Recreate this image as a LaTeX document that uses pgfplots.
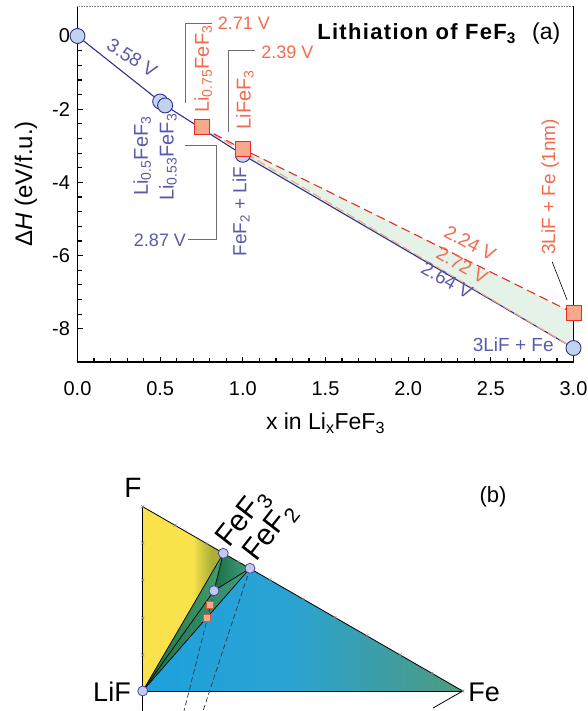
\documentclass[border=0pt]{standalone}
\usepackage{fontspec}
\setmainfont{Liberation Sans}
\usepackage{pgfplots}
\pgfplotsset{compat=1.18}
\newcommand\fs[1]{\fontsize{#1}{#1}\selectfont}
\definecolor{bline}{HTML}{2E3192}
\definecolor{btext}{HTML}{5A5AAA}
\definecolor{rline}{HTML}{EE2A24}
\definecolor{rtext}{HTML}{F26B4E}
\definecolor{sqfill}{HTML}{F7A98B}
\definecolor{cfill}{HTML}{C3D3EE}
\definecolor{gfill}{HTML}{E4F2E8}
\definecolor{oline}{HTML}{F4A57E}
\definecolor{annog}{HTML}{6E6E6E}
\definecolor{ylw}{HTML}{FAE24A}
\definecolor{olv}{HTML}{A9AE38}
\definecolor{bl1}{HTML}{1EA1DD}
\definecolor{bl2}{HTML}{2AA3D3}
\definecolor{bl3}{HTML}{4E9A7E}
\definecolor{bcirc}{HTML}{C5C8EC}
\pgfdeclarehorizontalshading{yshade}{100bp}{color(0bp)=(ylw); color(25bp)=(ylw); color(56bp)=(ylw); color(68bp)=(olv); color(75bp)=(olv); color(100bp)=(olv)}
\pgfdeclarehorizontalshading{bshade}{100bp}{color(0bp)=(bl1); color(25bp)=(bl1); color(48bp)=(bl2); color(75bp)=(bl3); color(100bp)=(bl3)}
\begin{document}
\begin{tikzpicture}
\useasboundingbox (0pt,0pt) rectangle (588pt,-711pt);
% ---------------- panel (a)
\begin{axis}[
  at={(77.5pt,-362pt)}, anchor=south west,
  scale only axis, width=496pt, height=356pt,
  xmin=0, xmax=3, ymin=-8.907, ymax=0.82,
  axis x line*=bottom, axis y line*=left,
  axis line style={line width=1.6pt, black},
  xtick={0,0.5,...,3}, ytick={0,-2,-4,-6,-8},
  minor x tick num=4, minor y tick num=4,
  tick align=inside, major tick length=5pt, minor tick length=4pt,
  every tick/.style={line width=1.2pt, black},
  /pgf/number format/assume math mode=true,
  ticklabel style={font=\fs{20}},
  yticklabel style={xshift=-4pt},
  xticklabel style={yshift=-16pt, /pgf/number format/.cd, fixed, fixed zerofill, precision=1},
  xlabel={x in Li\textsubscript{x}FeF\textsubscript{3}},
  xlabel style={font=\fs{23}, at={(axis description cs:0.5,-0.172)}, anchor=center},
  ylabel={Δ\textit{H} (eV/f.u.)},
  ylabel style={font=\fs{24}, at={(axis description cs:-0.104,0.5)}, anchor=center},
  clip=false,
]
\addplot[fill=gfill, draw=none] coordinates {(1,-3.09) (3,-7.57) (3,-8.526) (1,-3.246) (1,-3.09)};
\addplot[bline, line width=1.1pt] coordinates {(0,0) (0.5,-1.79) (0.53,-1.897) (1,-3.246) (3,-8.526)};
\addplot[oline, line width=1.1pt, dash pattern=on 9pt off 4pt] coordinates {(0.75,-2.493) (3,-8.526)};
\addplot[rline, line width=1.1pt, dash pattern=on 9pt off 5pt] coordinates {(0.75,-2.493) (1,-3.09) (3,-7.57)};
\addplot[only marks, mark=*, mark size=7.5pt, mark options={fill=cfill, draw=bline, line width=0.9pt}]
  coordinates {(0,0) (0.5,-1.79) (0.53,-1.897) (1,-3.246) (3,-8.526)};
\addplot[only marks, mark=square*, mark size=7.5pt, mark options={fill=sqfill, draw=rline, line width=0.9pt}]
  coordinates {(0.75,-2.493) (1,-3.09) (3,-7.57)};
% annotations
\node[btext, font=\fs{19}, rotate=-32] at (axis cs:0.33,-0.6) {3.58 V};
\node[btext, font=\fs{20}, rotate=90] at (axis cs:0.391,-3.28) {Li\textsubscript{0.5}FeF\textsubscript{3}};
\node[btext, font=\fs{20}, rotate=90] at (axis cs:0.547,-3.31) {Li\textsubscript{0.53}FeF\textsubscript{3}};
\node[btext, font=\fs{18}] at (axis cs:0.499,-5.57) {2.87 V};
\draw[annog, line width=0.8pt] (axis cs:0.668,-5.546) -- (axis cs:0.838,-5.546) -- (axis cs:0.838,-2.978) -- (axis cs:0.650,-2.978);
\node[rtext, font=\fs{18}] at (axis cs:1.007,0.355) {2.71 V};
\draw[annog, line width=0.8pt] (axis cs:0.814,0.355) -- (axis cs:0.650,0.355) -- (axis cs:0.650,-1.83);
\node[rtext, font=\fs{18}] at (axis cs:1.269,-0.437) {2.39 V};
\draw[annog, line width=0.8pt] (axis cs:1.074,-0.383) -- (axis cs:0.910,-0.383) -- (axis cs:0.910,-2.62);
\node[rtext, font=\fs{20}, rotate=90, anchor=west] at (axis cs:0.760,-2.19) {Li\textsubscript{0.75}FeF\textsubscript{3}};
\node[rtext, font=\fs{20}, rotate=90, anchor=west] at (axis cs:1.013,-2.65) {LiFeF\textsubscript{3}};
\node[btext, font=\fs{19}, rotate=90, anchor=west] at (axis cs:0.99,-6.12) {FeF\textsubscript{2} + LiF};
\node[rtext, font=\fs{19}, rotate=-28] at (axis cs:2.375,-5.66) {2.24 V};
\node[rtext, font=\fs{19}, rotate=-29] at (axis cs:2.326,-6.26) {2.72 V};
\node[btext, font=\fs{19}, rotate=-29] at (axis cs:2.235,-6.67) {2.64 V};
\node[rtext, font=\fs{19}, rotate=90, anchor=west] at (axis cs:2.859,-6.07) {3LiF + Fe (1nm)};
\draw[black, line width=0.6pt] (axis cs:2.871,-6.17) -- (axis cs:2.961,-7.21);
\node[btext, font=\fs{19}, anchor=east] at (axis cs:2.901,-8.44) {3LiF + Fe};
\node[font=\fs{22}\bfseries\addfontfeatures{LetterSpace=6}, anchor=base west, inner sep=0pt] at (axis cs:1.449,-0.109) {Lithiation of FeF\textsubscript{3}};
\node[font=\fs{23}, anchor=base west, inner sep=0pt] at (axis cs:2.749,-0.109) {(a)};
\draw[line width=1.6pt] (rel axis cs:1,0) -- (rel axis cs:1,1);
\draw[gray, densely dotted, line width=0.6pt] (rel axis cs:0,1) -- (rel axis cs:1,1);
\end{axis}
% ---------------- panel (b)
\begin{axis}[
  at={(0pt,0pt)}, anchor=north west,
  scale only axis, width=588pt, height=711pt,
  xmin=0, xmax=588, ymin=-711, ymax=0,
  hide axis, clip=false,
]
% yellow F-LiF-FeF3
\addplot[draw=none, shading=yshade] coordinates {(142.7,-506.7) (142.7,-691) (223.3,-553.3) (142.7,-506.7)};
% blue LiF-FeF2-Fe
\addplot[draw=none, shading=bshade] coordinates {(142.7,-691) (250,-568.3) (462.7,-691) (142.7,-691)};
% green sub-triangles
\addplot[draw=none, left color={rgb,255:red,25;green,112;blue,72}, right color={rgb,255:red,70;green,158;blue,110}] coordinates {(142.7,-691) (223.3,-553.3) (214,-590.7) (142.7,-691)};
\addplot[draw=none, left color={rgb,255:red,24;green,110;blue,70}, right color={rgb,255:red,68;green,160;blue,128}] coordinates {(223.3,-553.3) (250,-568.3) (214,-590.7) (223.3,-553.3)};
\addplot[draw=none, left color={rgb,255:red,28;green,114;blue,74}, right color={rgb,255:red,62;green,156;blue,124}] coordinates {(142.7,-691) (214,-590.7) (250,-568.3) (142.7,-691)};
% edges
\addplot[black, line width=0.8pt] coordinates {(142.7,-506.7) (142.7,-711)};
\addplot[black, line width=0.8pt] coordinates {(142.7,-691) (462.7,-691)};
\addplot[black, line width=0.8pt] coordinates {(142.7,-506.7) (462.7,-691) (433,-708)};
\addplot[black, line width=0.7pt] coordinates {(142.7,-691) (223.3,-553.3) (214,-590.7) (250,-568.3) (142.7,-691)};
\addplot[black, line width=0.7pt] coordinates {(142.7,-691) (214,-590.7)};
% composition ticks
\addplot[only marks, mark=x, mark size=2pt, gray, mark options={line width=0.5pt}] coordinates {
 (142.7,-543) (142.7,-580) (142.7,-618) (142.7,-655)
 (175,-525.3) (207,-543.7) (238,-561.6) (270,-580.0) (303,-599.0) (335,-617.4) (367,-635.8) (400,-654.8) (432,-673.2) (462.7,-691) (142.7,-506.7)};
% squares and dashed lines
\addplot[only marks, mark=square*, mark size=3.5pt, mark options={fill=sqfill, draw={rgb,255:red,224;green,85;blue,58}, line width=0.6pt}] coordinates {(210,-604.3) (206.7,-617.7)};
\addplot[black!80, line width=0.7pt, dash pattern=on 5pt off 3pt] coordinates {(216,-584) (184,-711)};
\addplot[black!80, line width=0.7pt, dash pattern=on 5pt off 3pt] coordinates {(250,-568.3) (203,-711)};
\addplot[only marks, mark=*, mark size=5pt, mark options={fill=bcirc, draw={rgb,255:red,74;green,74;blue,168}, line width=0.8pt}]
  coordinates {(142.7,-691) (223.3,-553.3) (250,-568.3) (214,-590.7)};
% labels
\node[font=\fs{28}] at (axis cs:133,-488) {F};
\node[font=\fs{27}] at (axis cs:112,-692) {LiF};
\node[font=\fs{27}] at (axis cs:484,-692) {Fe};
\node[font=\fs{30}, rotate=52, anchor=base west, inner sep=0pt] at (axis cs:229,-549) {FeF\textsubscript{3}};
\node[font=\fs{30}, rotate=52, anchor=base west, inner sep=0pt] at (axis cs:256,-563) {FeF\textsubscript{2}};
\node[font=\fs{22}] at (axis cs:493,-497) {(b)};
\end{axis}
\end{tikzpicture}
\end{document}
